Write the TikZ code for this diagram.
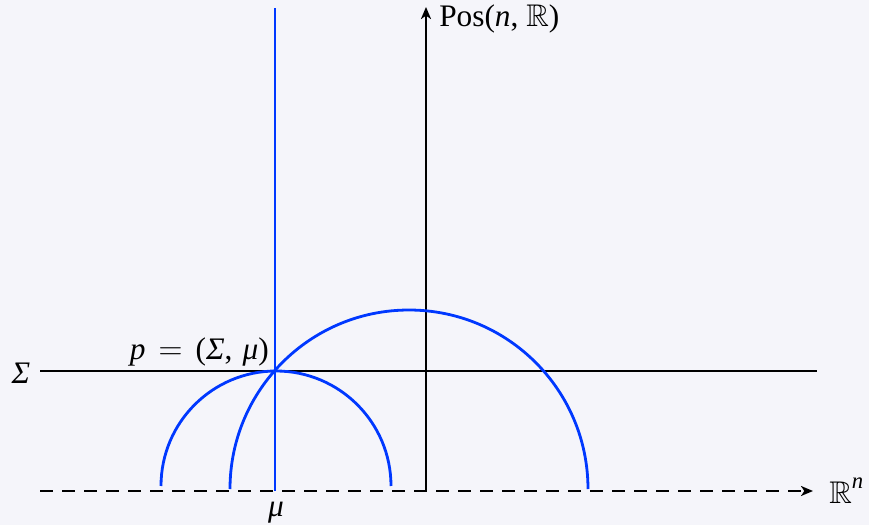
\documentclass[tikz,border=0pt]{standalone}
\usepackage{amsmath}
\usepackage{amssymb}
\usepackage{fontspec}
\setmainfont{Liberation Serif}
\usetikzlibrary{arrows.meta}
\definecolor{bg}{RGB}{245,245,250}
\definecolor{geo}{RGB}{0,56,255}
\begin{document}
\begin{tikzpicture}[x=0.75pt,y=-0.75pt,
  axis/.style={line width=2.1pt,black},
  geod/.style={line width=2.1pt,geo},
  dashaxis/.style={axis,dash pattern=on 9.75pt off 6.75pt},
  tip/.style={-{Stealth[length=9pt,width=7.5pt,inset=2.5pt]}},
  lbl/.style={font=\fontsize{23.5}{28}\selectfont,inner sep=0pt}]
\fill[bg] (0,0) rectangle (869,525);
\useasboundingbox (0,0) rectangle (869,525);
% coordinates
\coordinate (O) at (426,491);
\coordinate (top) at (426,7);
\coordinate (dl) at (40,491);
\coordinate (dr) at (813,491);
\coordinate (sl) at (40,371);
\coordinate (sr) at (817,371);
\coordinate (p) at (275,371);
\coordinate (mu) at (275,491);
\coordinate (vt) at (275,8);
\coordinate (bigL) at (230,489);
\coordinate (smallL) at (161,486);
% axes
\draw[dashaxis,tip] (dl) -- (dr);
\draw[axis,tip] (O) -- (top);
\draw[axis] (sl) -- (sr);
% geodesics
\draw[geod] (mu) -- (vt);
\draw[geod] (smallL) arc[start angle=180,end angle=360,radius=115];
\draw[geod] (bigL) arc[start angle=180,end angle=360,radius=179];
% labels
\node[lbl,anchor=base west] (pos) at (439,26) {Pos(\textit{n},\hspace{0.25em}$\mathbb{R}$)};
\node[lbl,anchor=base west] (rn) at (829,503) {$\mathbb{R}$\raisebox{0.45em}{\fontsize{17}{20}\selectfont\textit{n}}};
\node[lbl,anchor=base] (sig) at (21,383) {\textit{Σ}};
\node[lbl,anchor=base east] (plab) at (269,359) {\textit{p}\hspace{0.42em}$=$\hspace{0.42em}(\textit{Σ},\hspace{0.32em}\textit{μ})};
\node[lbl,anchor=base] (mul) at (276,516) {\textit{μ}};
\end{tikzpicture}
\end{document}
